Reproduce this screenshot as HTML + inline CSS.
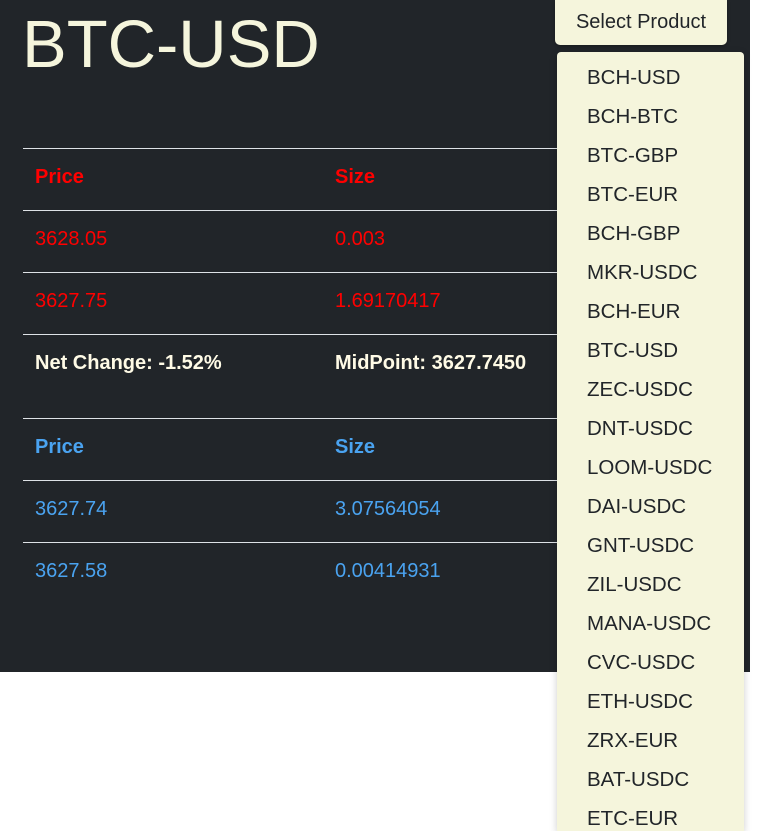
<!DOCTYPE html>
<html><head><meta charset="utf-8"><style>
*{margin:0;padding:0;box-sizing:border-box}
html,body{width:767px;height:831px;overflow:hidden}
body{background:#fff;font-family:"Liberation Sans",Arial,sans-serif;position:relative}
#panel{position:absolute;left:0;top:0;width:750px;height:672px;background:#212529}
h1{position:absolute;left:22px;top:7px;font-size:67px;font-weight:400;color:#f5f5dc;line-height:76px}
.line{position:absolute;left:23px;width:560px;height:1px;background:#dee2e6}
.cell{position:absolute;font-size:20px;line-height:24px}
.b{font-weight:bold}
.red{color:#f00}.blue{color:#4aa3f0}.cream{color:#fffbe6}
#btn{position:absolute;left:555px;top:0;width:172px;height:45px;background:#f5f5dc;border-radius:0 0 5px 5px;font-size:20px;color:#212529;text-align:center;line-height:44px;box-shadow:0 1px 3px rgba(0,0,0,.3)}
#menu{position:absolute;left:557px;top:52px;width:187px;height:779px;background:#f5f5dc;border-radius:4px 4px 0 0;box-shadow:0 2px 8px rgba(0,0,0,.2)}
.item{position:absolute;left:30px;font-size:20.5px;color:#212529;line-height:24px}
</style></head><body>
<div id="panel">
<h1>BTC-USD</h1>
<div class="line" style="top:148px"></div><div class="line" style="top:210px"></div><div class="line" style="top:272px"></div><div class="line" style="top:334px"></div><div class="line" style="top:418px"></div><div class="line" style="top:480px"></div><div class="line" style="top:542px"></div>
<div class="cell b red" style="left:35px;top:165px">Price</div>
<div class="cell b red" style="left:335px;top:165px">Size</div>
<div class="cell red" style="left:35px;top:227px">3628.05</div>
<div class="cell red" style="left:335px;top:227px">0.003</div>
<div class="cell red" style="left:35px;top:289px">3627.75</div>
<div class="cell red" style="left:335px;top:289px">1.69170417</div>
<div class="cell b cream" style="left:35px;top:351px">Net Change: -1.52%</div>
<div class="cell b cream" style="left:335px;top:351px">MidPoint: 3627.7450</div>
<div class="cell b blue" style="left:35px;top:435px">Price</div>
<div class="cell b blue" style="left:335px;top:435px">Size</div>
<div class="cell blue" style="left:35px;top:497px">3627.74</div>
<div class="cell blue" style="left:335px;top:497px">3.07564054</div>
<div class="cell blue" style="left:35px;top:559px">3627.58</div>
<div class="cell blue" style="left:335px;top:559px">0.00414931</div>
</div>
<div id="btn">Select Product</div>
<div id="menu">
<div class="item" style="top:14px">BCH-USD</div>
<div class="item" style="top:53px">BCH-BTC</div>
<div class="item" style="top:92px">BTC-GBP</div>
<div class="item" style="top:131px">BTC-EUR</div>
<div class="item" style="top:170px">BCH-GBP</div>
<div class="item" style="top:209px">MKR-USDC</div>
<div class="item" style="top:248px">BCH-EUR</div>
<div class="item" style="top:287px">BTC-USD</div>
<div class="item" style="top:326px">ZEC-USDC</div>
<div class="item" style="top:365px">DNT-USDC</div>
<div class="item" style="top:404px">LOOM-USDC</div>
<div class="item" style="top:443px">DAI-USDC</div>
<div class="item" style="top:482px">GNT-USDC</div>
<div class="item" style="top:521px">ZIL-USDC</div>
<div class="item" style="top:560px">MANA-USDC</div>
<div class="item" style="top:599px">CVC-USDC</div>
<div class="item" style="top:638px">ETH-USDC</div>
<div class="item" style="top:677px">ZRX-EUR</div>
<div class="item" style="top:716px">BAT-USDC</div>
<div class="item" style="top:755px">ETC-EUR</div>
</div>
</body></html>
